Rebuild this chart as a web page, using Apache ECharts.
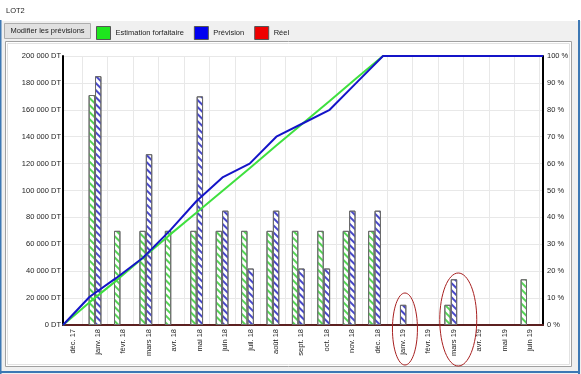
<!DOCTYPE html>
<html><head><meta charset="utf-8">
<script src="https://cdn.jsdelivr.net/npm/echarts@6/dist/echarts.min.js"></script>
<style>html,body{margin:0;padding:0;background:#f0f0f0;}#c{width:581px;height:374px;}</style>
</head><body><div id="c"></div>
<script>
// ---- data ----
const categories = ['déc. 17','janv. 18','févr. 18','mars 18','avr. 18','mai 18','juin 18','juil. 18','août 18','sept. 18','oct. 18','nov. 18','déc. 18','janv. 19','févr. 19','mars 19','avr. 19','mai 19','juin 19'];
const estimationBars = [null,171000,70000,70000,70000,70000,70000,70000,70000,70000,70000,70000,70000,null,null,15000,null,null,34000];
const previsionBars  = [null,185000,null,127000,null,170000,85000,42000,85000,42000,42000,85000,85000,15000,null,34000,null,null,null];
const estimationPct  = [0,8.5,16.5,25,33.5,41.7,50,58.3,66.7,75,83.3,91.7,100,100,100,100,100,100,100];
const previsionPct   = [0,10.5,17.5,25,35,46,55,60,70,75,80,90,100,100,100,100,100,100,100];
const reelPct        = [];
const seriesNames    = ['Estimation forfaitaire','Prévision','Réel'];
const amountTicks    = {min:0, max:200000, interval:20000};
const percentTicks   = {min:0, max:100, interval:10};
const circledMonths  = ['janv. 19','mars 19'];

const FONT = '"Liberation Sans", Arial, sans-serif';
const fmtDT = v => String(v).replace(/\B(?=(\d{3})+(?!\d))/g, ' ') + ' DT';
const fmtPct = v => v + ' %';

const chart = echarts.init(document.getElementById('c'));
const hatch = c => ({symbol:'rect', symbolSize:1, dashArrayX:[1,0], dashArrayY:[1.4,2.4], rotation:Math.PI/4, color:c});

chart.setOption({
  animation:false,
  backgroundColor:'#f0f0f0',
  textStyle:{fontFamily:FONT},
  graphic:[
    {id:'titlebar', type:'rect', z:-20, silent:true, shape:{x:0,y:0,width:581,height:21}, style:{fill:'#ffffff'}},
    {id:'title', type:'text', z:-5, x:6, y:11, style:{text:'LOT2', fontSize:7.5, fontFamily:FONT, fill:'#222', verticalAlign:'middle'}},
    {id:'btn', type:'rect', z:-9, shape:{x:4.5,y:23.5,width:86,height:15}, style:{fill:'#e1e1e1', stroke:'#adadad', lineWidth:1}},
    {id:'btnText', type:'text', z:-5, x:47.5, y:31, style:{text:'Modifier les prévisions', fontSize:7.5, fontFamily:FONT, fill:'#222', align:'center', verticalAlign:'middle'}},
    {id:'panel', type:'rect', z:-20, shape:{x:5.5,y:41.5,width:566,height:325}, style:{fill:'#ffffff', stroke:'#a0a0a0', lineWidth:1}},
    {id:'panelIn', type:'rect', z:-19, shape:{x:7.5,y:43.5,width:562,height:321}, style:{fill:'none', stroke:'#e2e2e2', lineWidth:1}},
    {id:'bl', type:'rect', z:-19, shape:{x:0,y:20,width:1.5,height:354}, style:{fill:'#3d78b4'}},
    {id:'br', type:'rect', z:-19, shape:{x:578,y:20,width:2,height:354}, style:{fill:'#3d78b4'}},
    {id:'bb', type:'rect', z:-19, shape:{x:0,y:371,width:580,height:2}, style:{fill:'#3d78b4'}}
  ],
  legend:{
    left:96, top:26, padding:0, itemWidth:14, itemHeight:13, itemGap:10, icon:'rect',
    textStyle:{fontSize:7.5, color:'#222', fontFamily:FONT},
    data:[
      {name:seriesNames[0], itemStyle:{color:'#1ee51e', borderColor:'#555', borderWidth:1}},
      {name:seriesNames[1], itemStyle:{color:'#0000f0', borderColor:'#555', borderWidth:1}},
      {name:seriesNames[2], itemStyle:{color:'#f00000', borderColor:'#555', borderWidth:1}}
    ]
  },
  grid:[
    {left:63, top:56, width:480, height:269},
    {left:56.9, top:56, width:482.8, height:269},
    {left:59.9, top:56, width:482.8, height:269}
  ],
  xAxis:[
    {type:'category', gridIndex:0, data:categories, boundaryGap:false,
     axisLine:{show:true, lineStyle:{color:'#5c2020', width:2}}, axisTick:{show:false},
     axisLabel:{show:false}, splitLine:{show:false}},
    {type:'category', gridIndex:1, data:categories, boundaryGap:true,
     axisLine:{show:false}, axisTick:{show:false}, axisLabel:{show:false},
     splitLine:{show:true, interval:function(i){return i>0;}, lineStyle:{color:'#e8e8e8', width:1}}},
    {type:'category', gridIndex:2, data:categories, boundaryGap:true,
     axisLine:{show:false}, axisTick:{show:false}, splitLine:{show:false},
     axisLabel:{rotate:90, margin:4, fontSize:7.5, color:'#222', fontFamily:FONT, interval:0}}
  ],
  yAxis:[
    {type:'value', gridIndex:0, position:'left', min:amountTicks.min, max:amountTicks.max, interval:amountTicks.interval,
     axisLine:{show:true, lineStyle:{color:'#000', width:2}}, axisTick:{show:false},
     axisLabel:{formatter:fmtDT, fontSize:7.5, color:'#222', margin:2, fontFamily:FONT},
     splitLine:{show:true, lineStyle:{color:'#e8e8e8', width:1}}},
    {type:'value', gridIndex:0, position:'right', min:percentTicks.min, max:percentTicks.max, interval:percentTicks.interval,
     axisLine:{show:true, lineStyle:{color:'#000', width:2}}, axisTick:{show:false},
     axisLabel:{formatter:fmtPct, fontSize:7.5, color:'#222', margin:4, fontFamily:FONT},
     splitLine:{show:false}},
    {type:'value', gridIndex:1, min:amountTicks.min, max:amountTicks.max, show:false},
    {type:'value', gridIndex:2, min:amountTicks.min, max:amountTicks.max, show:false}
  ],
  series:[
    {name:seriesNames[0], type:'line', xAxisIndex:0, yAxisIndex:1, data:estimationPct, z:5,
     showSymbol:false, color:'#3fe03f', lineStyle:{color:'#3fe03f', width:2}},
    {name:seriesNames[1], type:'line', xAxisIndex:0, yAxisIndex:1, data:previsionPct, z:6,
     showSymbol:false, color:'#1414c8', lineStyle:{color:'#1414c8', width:2}},
    {name:seriesNames[2], type:'line', xAxisIndex:0, yAxisIndex:1, data:reelPct, z:6,
     showSymbol:false, color:'#f00000', lineStyle:{color:'#f00000', width:2}},
    {name:seriesNames[0], type:'bar', xAxisIndex:1, yAxisIndex:2, data:estimationBars, z:2,
     barWidth:6.4, barGap:'0%',
     itemStyle:{color:'#ffffff', borderColor:'#6a6a6a', borderWidth:1, decal:hatch('#55d455')}},
    {name:seriesNames[1], type:'bar', xAxisIndex:1, yAxisIndex:2, data:previsionBars, z:2,
     barWidth:6.4, barGap:'0%',
     itemStyle:{color:'#ffffff', borderColor:'#6a6a6a', borderWidth:1, decal:hatch('#4848c8')}}
  ]
});

// red annotation ellipses anchored on the axis
const x0 = chart.convertToPixel({xAxisIndex:1}, circledMonths[0]);
const x1 = chart.convertToPixel({xAxisIndex:1}, circledMonths[1]);
const yb = chart.convertToPixel({yAxisIndex:2}, 0);
chart.setOption({graphic:[
  {id:'ell1', type:'ellipse', z:50, silent:true, shape:{cx:x0+5, cy:yb+4, rx:12.5, ry:36}, style:{fill:'none', stroke:'#a82020', lineWidth:1}},
  {id:'ell2', type:'ellipse', z:50, silent:true, shape:{cx:x1+7.5, cy:yb-5.5, rx:18.5, ry:46.5}, style:{fill:'none', stroke:'#a82020', lineWidth:1}}
]});
</script></body></html>
